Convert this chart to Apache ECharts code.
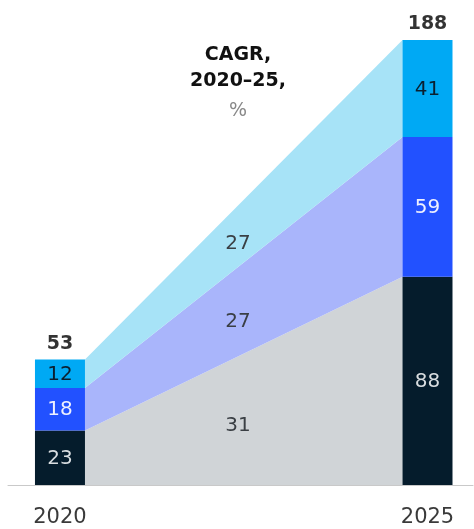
<!DOCTYPE html>
<html><head><meta charset="utf-8">
<script src="https://cdn.jsdelivr.net/npm/echarts@6/dist/echarts.min.js"></script>
<style>html,body{margin:0;padding:0;background:#fff}#c{width:474px;height:529px}</style>
</head><body><div id="c"></div>
<script>
const years = [2020, 2025];
const seriesNames = ['Base', 'Middle', 'Top'];
const baseVals = [23, 88];
const midVals = [18, 59];
const topVals = [12, 41];
const totals = [53, 188];
const cagr = [31, 27, 27];
const cagrTitle = ['CAGR,', '2020–25,', '%'];

const FONT = '"DejaVu Sans", sans-serif';
const BAR_W = 50;
const barColors = ['#051c2c', '#2251ff', '#00a9f4'];
const bandColors = ['#d0d4d7', '#a9b5fb', '#a7e3f7'];
const labelColors = ['#d9dde0', '#eef0ff', '#0b2030'];
const valsArr = [baseVals, midVals, topVals];

// cumulative bounds
const cum = years.map((_, j) => {
  let s = 0; const out = [0];
  valsArr.forEach(v => { s += v[j]; out.push(s); });
  return out;
});
const bandData = seriesNames.map((_, i) => [cum[0][i], cum[0][i + 1], cum[1][i], cum[1][i + 1], cagr[i]]);
const segData = [];
valsArr.forEach((vals, i) => years.forEach((yr, j) => segData.push([yr, cum[j][i], cum[j][i + 1], vals[j], i])));

const chart = echarts.init(document.getElementById('c'));
const option = {
  animation: false,
  textStyle: { fontFamily: FONT },
  grid: { left: 8, right: 1, top: 40, bottom: 44 },
  xAxis: {
    type: 'value', min: 2019.293, max: 2025.619,
    axisLine: { show: true, lineStyle: { color: '#c9c9c9', width: 1 } },
    axisTick: { show: false },
    splitLine: { show: false },
    axisLabel: { customValues: years, formatter: v => String(v), fontSize: 21, color: '#3a3a3a', margin: 22, fontFamily: FONT }
  },
  yAxis: { type: 'value', min: 0, max: 188, show: false },
  series: [
    {
      type: 'custom', z: 1,
      data: bandData,
      renderItem: (params, api) => {
        const a0 = api.value(0), a1 = api.value(1), b0 = api.value(2), b1 = api.value(3);
        const xL = api.coord([years[0], 0])[0] + BAR_W / 2;
        const xR = api.coord([years[1], 0])[0] - BAR_W / 2;
        const y = v => api.coord([years[0], v])[1];
        const idx = params.dataIndex;
        const xm = 238;
        const t = (xm - xL) / (xR - xL);
        const lo = a0 + (b0 - a0) * t, hi = a1 + (b1 - a1) * t;
        const add = [5, 10, 8];
        return {
          type: 'group',
          children: [
            { type: 'polygon', shape: { points: [[xL, y(a0)], [xL, y(a1)], [xR, y(b1)], [xR, y(b0)]] }, style: { fill: bandColors[idx] } },
            { type: 'text', style: { text: String(api.value(4)), x: xm, y: (y(lo) + y(hi)) / 2 + add[idx], align: 'center', verticalAlign: 'middle', fill: '#3a3f44', font: '20px ' + FONT } }
          ]
        };
      }
    },
    {
      type: 'custom', z: 3,
      data: segData,
      renderItem: (params, api) => {
        const p0 = api.coord([api.value(0), api.value(1)]);
        const p1 = api.coord([api.value(0), api.value(2)]);
        const i = api.value(4);
        return {
          type: 'group',
          children: [
            { type: 'rect', shape: { x: p0[0] - BAR_W / 2, y: p1[1], width: BAR_W, height: p0[1] - p1[1] }, style: { fill: barColors[i] } },
            { type: 'text', style: { text: String(api.value(3)), x: p0[0], y: (p0[1] + p1[1]) / 2 + 1, align: 'center', verticalAlign: 'middle', fill: labelColors[i], font: '20px ' + FONT } }
          ]
        };
      }
    },
    {
      type: 'scatter', symbolSize: 0, z: 4,
      data: years.map((yr, j) => [yr, totals[j]]),
      label: { show: true, position: 'top', distance: 6, formatter: p => String(p.value[1]), fontSize: 19, fontWeight: 'bold', color: '#000', fontFamily: FONT }
    }
  ],
  graphic: [{
    type: 'text', left: 238 - 60, top: 46,
    style: {
      text: '{b|' + cagrTitle[0] + '}\n{b|' + cagrTitle[1] + '}\n{r|' + cagrTitle[2] + '}',
      rich: {
        b: { fontSize: 19, fontWeight: 'bold', fill: '#111', lineHeight: 26, align: 'center', width: 120, fontFamily: FONT },
        r: { fontSize: 19, fill: '#888', lineHeight: 34, align: 'center', width: 120, fontFamily: FONT }
      }
    }
  }]
};
chart.setOption(option);
</script></body></html>
